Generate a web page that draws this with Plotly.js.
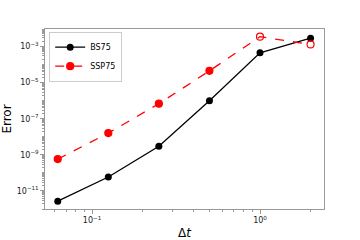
<!DOCTYPE html>
<html><head><meta charset="utf-8">
<script src="https://cdn.plot.ly/plotly-3.0.1.min.js"></script>
<style>html,body{margin:0;padding:0;background:#fff}#c{width:360px;height:240px}</style>
</head><body><div id="c"></div>
<script>
const dt = [0.0625, 0.125, 0.25, 0.5, 1, 2];
const bs75 = [2.7e-12, 5.9e-11, 3.0e-9, 1.0e-6, 4.5e-4, 2.9e-3];
const ssp75 = [5.8e-10, 1.6e-8, 6.8e-7, 4.5e-5, 3.5e-3, 1.3e-3];
const sspSymbols = ['circle','circle','circle','circle','circle-open','circle-open'];
const yTickVals = [1e-11, 1e-9, 1e-7, 1e-5, 1e-3];
const yTickText = ['10<sup>−11</sup>','10<sup>−9</sup>','10<sup>−7</sup>','10<sup>−5</sup>','10<sup>−3</sup>'];
const xTickVals = [0.1, 1];
const xTickText = ['10<sup>−1</sup>','10<sup>0</sup>'];

function minorVals(lo, hi) {
  const v = [];
  for (let e = lo; e <= hi; e++) for (let d = 1; d <= 9; d++) v.push(d * Math.pow(10, e));
  return v;
}

const traces = [
  {x: dt, y: bs75, name: 'BS75', mode: 'lines+markers',
   line: {color: '#000', width: 1.3}, marker: {color: '#000', size: 7}},
  {x: dt, y: ssp75, name: 'SSP75', mode: 'lines+markers',
   line: {color: '#ff0000', width: 1.3, dash: 'dash'},
   marker: {color: '#ff0000', size: 7, symbol: sspSymbols, line: {color: '#ff0000', width: 1.2}}}
];
const axisCommon = {
  showline: true, mirror: true, linecolor: '#999', linewidth: 1.2,
  ticks: 'outside', ticklen: 3.5, tickcolor: '#999', showgrid: false, zeroline: false,
  tickfont: {family: 'DejaVu Sans', size: 8, color: '#222'}
};
const layout = {
  width: 360, height: 240,
  margin: {l: 45, r: 36, t: 29, b: 31},
  paper_bgcolor: '#fff', plot_bgcolor: '#fff',
  showlegend: true,
  legend: {x: 0.015, y: 0.985, xanchor: 'left', yanchor: 'top',
           bgcolor: 'rgba(255,255,255,0.8)', bordercolor: '#ccc', borderwidth: 1,
           font: {family: 'DejaVu Sans', size: 8, color: '#000'}, tracegroupgap: 0},
  xaxis: Object.assign({}, axisCommon, {
    type: 'log', range: [-1.28, 0.381],
    tickmode: 'array', tickvals: xTickVals, ticktext: xTickText,
    minor: {tickmode: 'array', tickvals: minorVals(-2, 1), ticklen: 2, tickcolor: '#999', ticks: 'outside'},
    title: {text: 'Δ<i>t</i>', font: {family: 'DejaVu Sans', size: 12, color: '#000'}, standoff: 6}
  }),
  yaxis: Object.assign({}, axisCommon, {
    type: 'log', range: [-12.0, -2.03],
    tickmode: 'array', tickvals: yTickVals, ticktext: yTickText,
    minor: {tickmode: 'array', tickvals: minorVals(-13, -2), ticklen: 2, tickcolor: '#999', ticks: 'outside'},
    title: {text: 'Error', font: {family: 'DejaVu Sans', size: 12, color: '#000'}, standoff: 4}
  })
};
Plotly.newPlot('c', traces, layout, {staticPlot: true, displayModeBar: false});
</script></body></html>
